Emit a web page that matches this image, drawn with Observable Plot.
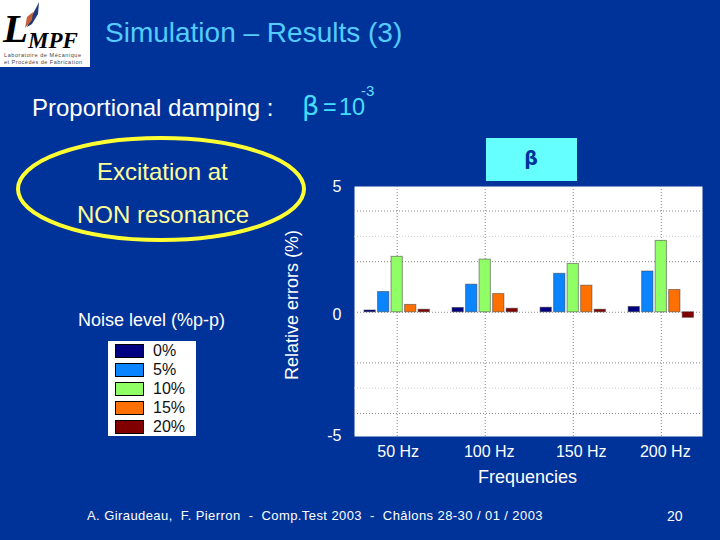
<!DOCTYPE html>
<html><head><meta charset="utf-8">
<script src="https://cdn.jsdelivr.net/npm/d3@7"></script>
<script src="https://cdn.jsdelivr.net/npm/@observablehq/plot@0.6"></script>
<style>
html,body{margin:0;padding:0;background:#003399;width:720px;height:540px;overflow:hidden}
body{position:relative;font-family:"Liberation Sans",Arial,sans-serif;color:#fff}
#chart{position:absolute;left:0;top:0}
.t{position:absolute;white-space:pre;line-height:1}
#legend{position:absolute;left:108px;top:341px;width:88px;height:95px;background:#fff}
#legend .row{position:absolute;left:7px;width:29px;height:14px;border:.5px solid #000;box-sizing:border-box}
#legend .lab{position:absolute;left:45px;font-size:16px;line-height:1;color:#111}
</style></head><body>
<div id="chart"></div>
<script>
const frequencies = [50, 100, 150, 200];
const frequencyLabels = ["50 Hz", "100 Hz", "150 Hz", "200 Hz"];
const noiseLevels = ["0%", "5%", "10%", "15%", "20%"];
const noiseColors = ["#000080", "#0a84ff", "#90ff66", "#ff7000", "#800000"];
const errors0 = [0.07, 0.17, 0.18, 0.21];
const errors5 = [0.80, 1.09, 1.52, 1.61];
const errors10 = [2.19, 2.08, 1.91, 2.82];
const errors15 = [0.29, 0.72, 1.05, 0.88];
const errors20 = [0.10, 0.14, 0.10, -0.22];
const yLabels = [-5, 0, 5];
const yLabelShift = [-3, 3, 1];
const majorGrid = [-4, -2, 0, 2, 4];
const minorGrid = [-3, 3];
const labelShift = [1, 4, 8, 4];

const series = [errors0, errors5, errors10, errors15, errors20];
const rows = series.flatMap((vals, s) => vals.map((v, i) => ({freq: frequencies[i], noise: noiseLevels[s], value: v, s})));

const plot = Plot.plot({
  width: 720, height: 540,
  marginLeft: 354, marginRight: 18, marginTop: 186, marginBottom: 104,
  style: {background: "transparent", color: "#fff", fontFamily: "Liberation Sans, Arial, sans-serif"},
  x: {domain: [25.75, 223.4], axis: null},
  y: {domain: [-4.91, 4.97], axis: null},
  color: {domain: noiseLevels, range: noiseColors},
  marks: [
    Plot.frame({fill: "#fff", stroke: "none"}),
    Plot.ruleY(minorGrid, {stroke: "#ccc", strokeDasharray: "1,2", strokeWidth: 1}),
    Plot.ruleY(majorGrid, {stroke: "#888", strokeDasharray: "1,2", strokeWidth: 1}),
    Plot.ruleX(frequencies, {stroke: "#888", strokeDasharray: "1,2", strokeWidth: 1}),
    Plot.rectY(rows, {
      x1: d => d.freq + (d.s - 2) * 7.68 - 3.2,
      x2: d => d.freq + (d.s - 2) * 7.68 + 3.2,
      y1: 0, y2: "value",
      fill: "noise", stroke: "#333", strokeOpacity: 0.5, strokeWidth: 1
    }),
    ...yLabels.map((v, i) => Plot.axisY({
      ticks: [v], tickSize: 0, tickPadding: 13, fontSize: 16, label: null,
      dy: yLabelShift[i], tickFormat: d => String(d)
    })),
    ...frequencies.map((f, i) => Plot.axisX({
      ticks: [f], tickSize: 0, tickPadding: 9, fontSize: 16, label: null,
      dx: labelShift[i], tickFormat: () => frequencyLabels[i]
    }))
  ]
});
document.getElementById("chart").append(plot);

function text(s, left, top, size, color, extra = "") {
  const d = document.createElement("div");
  d.className = "t";
  d.textContent = s;
  d.style.cssText = `left:${left}px;top:${top}px;font-size:${size}px;color:${color};${extra}`;
  document.body.append(d);
  return d;
}
text("Simulation – Results (3)", 105, 19, 28, "#55ccff");
text("Proportional damping :", 32, 96, 24, "#fff");
text("β", 302, 92, 27, "#44ddff", "font-family:'DejaVu Sans'");
text("=", 323, 96, 23.5, "#44ddff");
text("10", 339, 96, 23.5, "#44ddff");
text("-3", 361, 83, 15, "#66ddff");
text("Excitation at", 97, 160, 24, "#ffff99");
text("NON resonance", 77, 203, 24, "#ffff99");
text("Noise level (%p-p)", 78, 311, 18, "#fff");
text("Relative errors (%)", 0, 0, 18, "#fff", "left:283px;top:380px;transform-origin:0 0;transform:rotate(-90deg)");
text("Frequencies", 478, 468, 18, "#fff");
text("A. Giraudeau,  F. Pierron  -  Comp.Test 2003  -  Châlons 28-30 / 01 / 2003", 87, 509, 13, "#fff", "letter-spacing:.42px");
text("20", 667, 509, 14, "#fff");

// Ellipse, logo and beta box
const ns = "http://www.w3.org/2000/svg";
const ov = document.createElementNS(ns, "svg");
ov.setAttribute("width", 720); ov.setAttribute("height", 540);
ov.style.cssText = "position:absolute;left:0;top:0;pointer-events:none";
ov.innerHTML = `
<ellipse cx="161" cy="189" rx="143" ry="51" fill="none" stroke="#ffff33" stroke-width="4"/>
<rect x="0" y="0" width="90" height="67" fill="#fff"/>
<path d="M31 17 L36 8 L39 2 L38 14 L32 24 L27 27 Z" fill="#223a78"/>
<path d="M27 17 L33 12 L32 20 L25 28 Z" fill="#c5603a"/>
<text x="3" y="42" font-family="Liberation Serif" font-style="italic" font-weight="bold" font-size="41" fill="#000">L</text>
<text x="28" y="48" font-family="Liberation Serif" font-style="italic" font-weight="bold" font-size="23" fill="#000">MPF</text>
<text x="4" y="57" font-family="Liberation Sans" font-size="5.5" textLength="77" fill="#444">Laboratoire de Mécanique</text>
<text x="4" y="64" font-family="Liberation Sans" font-size="5.5" textLength="78" fill="#444">et Procédés de Fabrication</text>
<rect x="486" y="138" width="91" height="43" fill="#66ffff"/>
<text x="531" y="165" text-anchor="middle" font-family="DejaVu Sans" font-weight="bold" font-size="19" fill="#003399">β</text>`;
document.body.append(ov);

const legend = document.createElement("div");
legend.id = "legend";
noiseLevels.forEach((n, i) => {
  const top = 3 + i * 19;
  const r = document.createElement("div");
  r.className = "row"; r.style.top = top + "px"; r.style.background = noiseColors[i];
  const l = document.createElement("div");
  l.className = "lab"; l.style.top = top - 1 + "px"; l.textContent = n;
  legend.append(r, l);
});
document.body.append(legend);
</script>
</body></html>
